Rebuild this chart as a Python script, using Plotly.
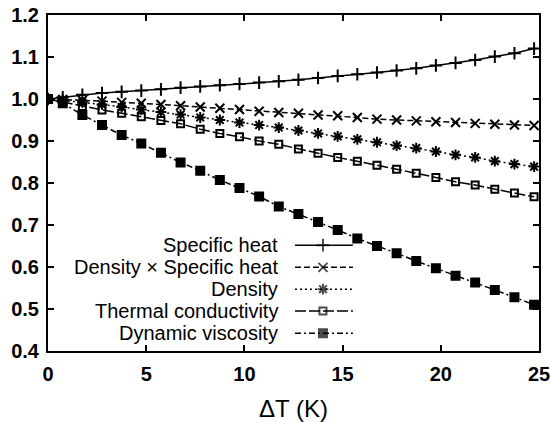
import plotly.graph_objects as go

# ---- data ----
dT = [0, 0.75, 1.75, 2.75, 3.75, 4.75, 5.75, 6.75, 7.75, 8.75, 9.75, 10.75, 11.75,
      12.75, 13.75, 14.75, 15.75, 16.75, 17.75, 18.75, 19.75, 20.75, 21.75, 22.75,
      23.75, 24.75]

specific_heat = [1.000, 1.004, 1.010, 1.014, 1.017, 1.020, 1.023, 1.027, 1.030, 1.033,
                 1.036, 1.039, 1.042, 1.046, 1.050, 1.055, 1.059, 1.063, 1.068, 1.073,
                 1.080, 1.086, 1.093, 1.101, 1.109, 1.120]

density_sh = [1.000, 0.999, 0.997, 0.995, 0.992, 0.990, 0.987, 0.984, 0.981, 0.978,
              0.975, 0.971, 0.968, 0.966, 0.962, 0.960, 0.956, 0.952, 0.950, 0.948,
              0.946, 0.944, 0.942, 0.940, 0.938, 0.937]

density = [1.000, 0.997, 0.992, 0.987, 0.981, 0.975, 0.969, 0.963, 0.956, 0.950,
           0.944, 0.938, 0.932, 0.925, 0.918, 0.911, 0.904, 0.897, 0.889, 0.883,
           0.875, 0.867, 0.861, 0.852, 0.845, 0.839]

thermal_cond = [1.000, 0.993, 0.982, 0.974, 0.966, 0.958, 0.949, 0.941, 0.928, 0.918,
                0.910, 0.900, 0.892, 0.881, 0.871, 0.861, 0.852, 0.842, 0.833, 0.823,
                0.813, 0.803, 0.795, 0.785, 0.776, 0.767]

viscosity = [1.000, 0.990, 0.962, 0.938, 0.914, 0.894, 0.872, 0.849, 0.829, 0.807,
             0.788, 0.768, 0.744, 0.726, 0.707, 0.688, 0.668, 0.650, 0.633, 0.614,
             0.597, 0.579, 0.563, 0.545, 0.528, 0.510]

names = ["Specific heat", "Density \u00d7 Specific heat", "Density",
         "Thermal conductivity", "Dynamic viscosity"]

x_ticks = [0, 5, 10, 15, 20, 25]
y_ticks = [0.4, 0.5, 0.6, 0.7, 0.8, 0.9, 1.0, 1.1, 1.2]

# ---- styles ----
FONT = "Liberation Sans, Arial, Helvetica, sans-serif"
series = [specific_heat, density_sh, density, thermal_cond, viscosity]
dashes = ["solid", "6px,3px", "2px,3px", "11px,3px", "6px,3px,2px,3px"]
symbols = ["cross-thin-open", "x-thin-open", "asterisk-open", "square-open", "square"]
msizes = [9, 9, 9, 7, 8]

fig = go.Figure()
for vals, nm, dsh, sym, ms in zip(series, names, dashes, symbols, msizes):
    fig.add_trace(go.Scatter(
        x=dT, y=vals, name=nm, mode="lines+markers",
        line=dict(color="black", width=1.5, dash=dsh),
        marker=dict(symbol=sym, size=ms, color="black",
                    line=dict(color="black", width=2)),
        showlegend=False,
    ))

# ---- gnuplot-style key (text on the left, sample on the right) ----
key_rows = [0.315, 0.249, 0.184, 0.119, 0.053]
key_x = [0.503, 0.560, 0.621]
for nm, dsh, sym, ms, ky in zip(names, dashes, symbols, msizes, key_rows):
    fig.add_trace(go.Scatter(
        x=key_x, y=[ky] * 3, xaxis="x2", yaxis="y2", mode="lines+markers",
        line=dict(color="black", width=1.5, dash=dsh),
        marker=dict(symbol=sym, size=[0, ms, 0], color="black",
                    line=dict(color="black", width=2)),
        showlegend=False, hoverinfo="skip",
    ))
    fig.add_annotation(text=nm, xref="paper", yref="paper", x=0.4725, y=ky,
                       xanchor="right", yanchor="middle", showarrow=False,
                       font=dict(family=FONT, size=20, color="black"))

fig.update_layout(
    width=551, height=422,
    margin=dict(l=48, r=12, t=15, b=71),
    paper_bgcolor="white", plot_bgcolor="white",
    font=dict(family=FONT, size=20, color="black"),
    xaxis=dict(range=[0, 25], tickvals=x_ticks, ticks="inside", ticklen=6,
               tickwidth=1.5, tickcolor="black", mirror="ticks", showline=True,
               linecolor="black", linewidth=2, showgrid=False, zeroline=False,
               ticklabelstandoff=4, automargin=False,
               title=dict(text="\u0394T (K)", standoff=18),
               tickfont=dict(size=20, weight="bold")),
    yaxis=dict(range=[0.4, 1.2], tickvals=y_ticks, tickformat=".1f", ticks="inside",
               ticklen=6, tickwidth=1.5, tickcolor="black", mirror="ticks",
               showline=True, linecolor="black", linewidth=2, showgrid=False,
               ticklabelstandoff=3, automargin=False,
               zeroline=False, tickfont=dict(size=20, weight="bold")),
    xaxis2=dict(overlaying="x", range=[0, 1], visible=False),
    yaxis2=dict(overlaying="y", range=[0, 1], visible=False),
)

fig.write_html("out.html")
